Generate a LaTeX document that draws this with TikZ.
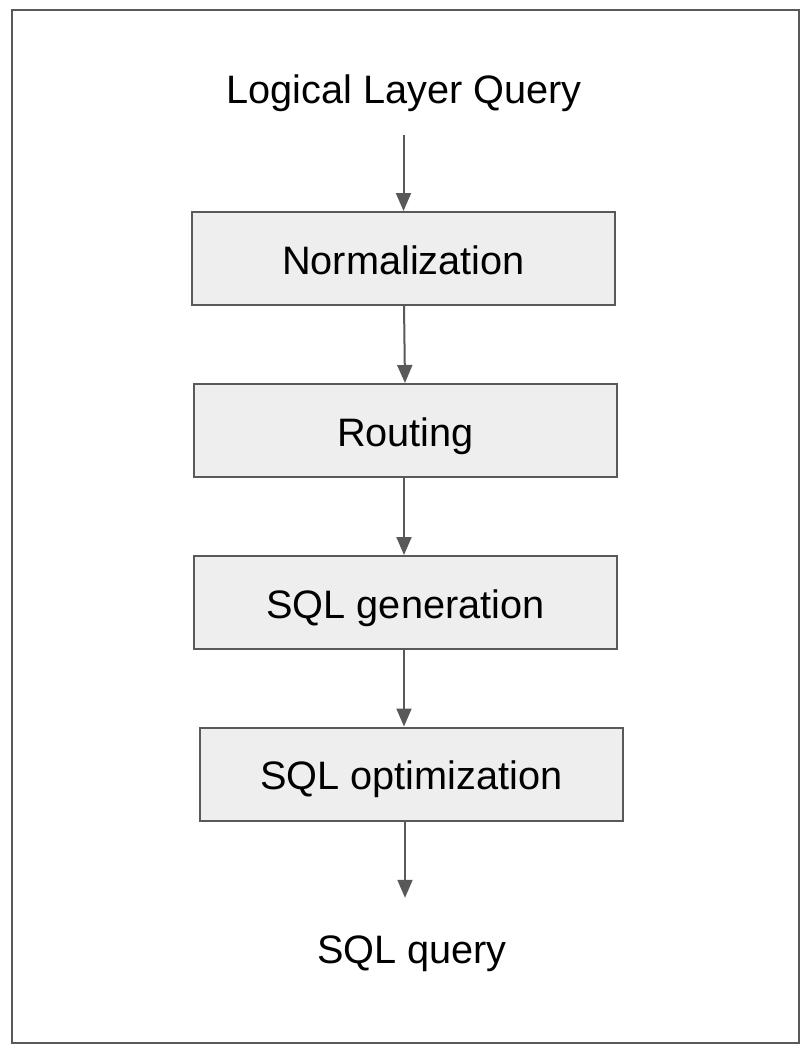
\documentclass[tikz,border=0pt]{standalone}
\usepackage{fontspec}
\setmainfont{Liberation Sans}
\usetikzlibrary{arrows.meta}
\definecolor{edgegray}{HTML}{595959}
\definecolor{boxfill}{HTML}{EEEEEE}

\begin{document}
\begin{tikzpicture}[
    x=1pt, y=-1pt,
    stagebox/.style={draw=edgegray, line width=2pt, fill=boxfill,
                     minimum width=423pt, minimum height=93pt,
                     text height=36pt, text depth=4.6pt,
                     font=\fontsize{39.7}{46}\selectfont},
    label/.style={font=\fontsize{39.7}{46}\selectfont, inner sep=0pt,
                  text height=36pt, text depth=4.6pt},
    arrow/.style={-{Triangle[length=18pt, width=15pt]}, line width=2pt, draw=edgegray},
  ]
  \useasboundingbox (0,0) rectangle (811,1054);
  \draw[edgegray, line width=2pt] (12,10) rectangle (799,1043);

  \node[label, minimum height=94pt] (input) at (404,88) {Logical Layer Query};
  \node[stagebox] (norm)  at (403.5,258.5) {Normalization};
  \node[stagebox] (route) at (405.5,430.5) {Routing};
  \node[stagebox] (gen)   at (405.5,602.5) {SQL generation};
  \node[stagebox] (opt)   at (411.5,774)   {SQL optimization};
  \node[label, minimum height=100pt] (output) at (412,948) {SQL query};

  \draw[arrow] (input.south -| norm) -- (norm.north);
  \draw[arrow] (404,305) -- (route.north -| 405,0);
  \draw[arrow] (route.south -| 404,0) -- (gen.north -| 404,0);
  \draw[arrow] (gen.south -| 404,0) -- (opt.north -| 404,0);
  \draw[arrow] (opt.south -| 405,0) -- (output.north -| 405,0);
\end{tikzpicture}
\end{document}
